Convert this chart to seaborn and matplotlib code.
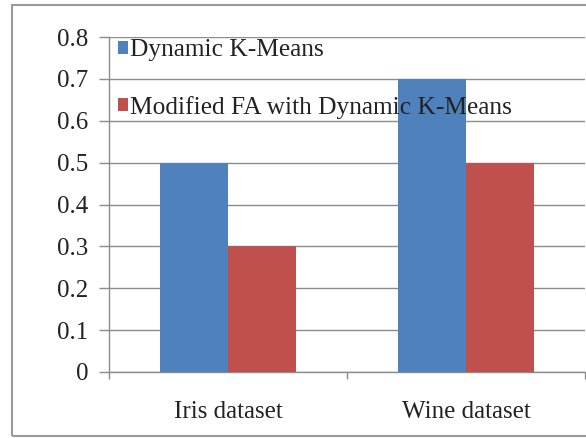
import matplotlib
matplotlib.use("Agg")
import matplotlib.pyplot as plt
import seaborn as sns
import pandas as pd
from matplotlib.patches import Rectangle

categories = ["Iris dataset", "Wine dataset"]
series_names = ["Dynamic K-Means", "Modified FA with Dynamic K-Means"]
dkm_values = [0.5, 0.7]
mfa_values = [0.3, 0.5]
yticks = [0, 0.1, 0.2, 0.3, 0.4, 0.5, 0.6, 0.7, 0.8]
ytick_labels = ["0", "0.1", "0.2", "0.3", "0.4", "0.5", "0.6", "0.7", "0.8"]
colors = ["#4F81BD", "#C0504D"]

df = pd.DataFrame({
    "category": categories * 2,
    "series": [series_names[0]] * 2 + [series_names[1]] * 2,
    "value": dkm_values + mfa_values,
})

sns.set_theme(style="white")
plt.rcParams["font.family"] = ["Liberation Serif", "DejaVu Serif"]

fig = plt.figure(figsize=(5.86, 4.38), dpi=100)
ax = fig.add_axes([109 / 586, 1 - 372 / 438, (585 - 109) / 586, (372 - 37) / 438])

sns.barplot(data=df, x="category", y="value", hue="series", order=categories,
            hue_order=series_names, palette=colors, width=0.574, gap=0,
            saturation=1, edgecolor="none", linewidth=0, ax=ax, zorder=3)

ax.set_xlim(-0.5, 1.5)
ax.set_ylim(0, 0.8)
ax.set_yticks(yticks)
ax.set_yticklabels(ytick_labels)
ax.set_xlabel("")
ax.set_ylabel("")
ax.grid(axis="y", color="#8c8c8c", linewidth=1.0, zorder=0)
ax.set_axisbelow(True)
for s in ["top", "right"]:
    ax.spines[s].set_visible(False)
for s in ["left", "bottom"]:
    ax.spines[s].set_color("#8c8c8c")
    ax.spines[s].set_linewidth(1.0)

ax.tick_params(axis="y", which="major", direction="out", length=7, width=1,
               color="#8c8c8c", pad=8, labelsize=18, labelcolor="#222222", left=True)
ax.tick_params(axis="x", which="major", length=0, pad=21, labelsize=18,
               labelcolor="#222222")
ax.set_xticks([-0.5, 0.5, 1.5], minor=True)
ax.tick_params(axis="x", which="minor", direction="out", length=5, width=1,
               color="#8c8c8c", bottom=True)

leg = ax.legend(loc="upper left", bbox_to_anchor=(0.005, 1.012), frameon=False,
                fontsize=18.3, handlelength=0.4, handleheight=0.4,
                handletextpad=0.08, labelspacing=1.35, borderaxespad=0.0,
                borderpad=0.25)
for t in leg.get_texts():
    t.set_color("#222222")

fig.patches.append(Rectangle((12 / 586, 1 - 436 / 438), 1.0, (436 - 5) / 438,
                             transform=fig.transFigure, fill=False,
                             edgecolor="#9a9a9a", linewidth=1.5, zorder=0))

fig.savefig("out.png", dpi=100)
